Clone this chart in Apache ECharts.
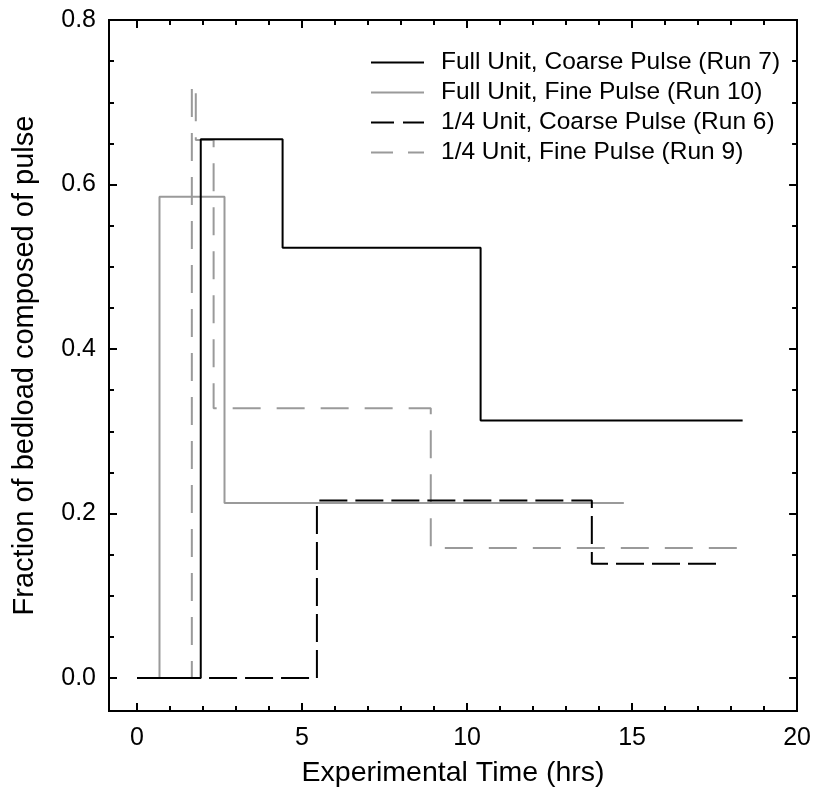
<!DOCTYPE html>
<html>
<head>
<meta charset="utf-8">
<script src="https://cdn.jsdelivr.net/npm/echarts@6/dist/echarts.min.js"></script>
<style>html,body{margin:0;padding:0;background:#fff}#c{width:814px;height:806px}</style>
</head>
<body>
<div id="c"></div>
<script>
// Data (hours, fraction) - step breakpoints
const timeRun7 = [0, 1.93, 4.41, 10.41, 18.35];
const fracRun7 = [0, 0.655, 0.523, 0.313, 0.313];
const timeRun10 = [0, 0.68, 2.65, 14.75];
const fracRun10 = [0, 0.585, 0.213, 0.213];
const timeRun6 = [0, 5.45, 13.78, 17.59];
const fracRun6 = [0, 0.216, 0.139, 0.139];
const timeRun9 = [0, 1.66, 1.78, 2.32, 8.9, 18.24];
const fracRun9 = [0, 0.721, 0.654, 0.328, 0.158, 0.158];

const seriesNames = [
  'Full Unit, Coarse Pulse (Run 7)',
  'Full Unit, Fine Pulse (Run 10)',
  '1/4 Unit, Coarse Pulse (Run 6)',
  '1/4 Unit, Fine Pulse (Run 9)'
];
const xMajorTicks = [0, 5, 10, 15, 20];
const xMinorTicks = [1, 2, 3, 4, 6, 7, 8, 9, 11, 12, 13, 14, 16, 17, 18, 19];
const yMajorTicks = [0, 0.2, 0.4, 0.6, 0.8];
const yMinorTicks = [0.05, 0.1, 0.15, 0.25, 0.3, 0.35, 0.45, 0.5, 0.55, 0.65, 0.7, 0.75];

const FONT = 'Liberation Sans, Arial, Helvetica, sans-serif';
const X_MIN = -0.85, X_MAX = 20, Y_MIN = -0.04, Y_MAX = 0.8;

function pairs(xs, ys) { return xs.map((x, i) => [x, ys[i]]); }

const axisLineStyle = { show: true, onZero: false, lineStyle: { color: '#000', width: 2 } };

function xAx(pos, ticks, len, showLabel, extra) {
  return Object.assign({
    type: 'value', position: pos, min: X_MIN, max: X_MAX,
    axisLine: axisLineStyle,
    axisTick: { show: true, inside: true, length: len, customValues: ticks, lineStyle: { color: '#000', width: 2 } },
    axisLabel: showLabel ? { show: true, customValues: ticks, color: '#000', fontSize: 25, fontFamily: FONT, margin: 15 } : { show: false },
    splitLine: { show: false }
  }, extra || {});
}
function yAx(pos, ticks, len, showLabel, extra) {
  return Object.assign({
    type: 'value', position: pos, min: Y_MIN, max: Y_MAX,
    axisLine: axisLineStyle,
    axisTick: { show: true, inside: true, length: len, customValues: ticks, lineStyle: { color: '#000', width: 2 } },
    axisLabel: showLabel ? { show: true, customValues: ticks, color: '#000', fontSize: 25, fontFamily: FONT, margin: 13,
      formatter: v => v.toFixed(1) } : { show: false },
    splitLine: { show: false }
  }, extra || {});
}

const chart = echarts.init(document.getElementById('c'), null, { renderer: 'canvas' });
chart.setOption({
  backgroundColor: '#fff',
  animation: false,
  grid: { left: 109, top: 20, right: 14, bottom: 95, containLabel: false },
  legend: {
    orient: 'vertical', left: 370, top: 50, padding: 0,
    itemWidth: 53, itemHeight: 24, itemGap: 5,
    itemStyle: { opacity: 0 },
    textStyle: { color: '#000', fontSize: 24.5, fontFamily: FONT, padding: [0, 0, 0, 12], lineHeight: 24 },
    data: [
      { name: seriesNames[0] },
      { name: seriesNames[1] },
      { name: seriesNames[2], lineStyle: { type: [23, 9] } },
      { name: seriesNames[3], lineStyle: { type: [22, 15] } }
    ]
  },
  xAxis: [
    xAx('bottom', xMajorTicks, 8, true, {
      name: 'Experimental Time (hrs)', nameLocation: 'middle', nameGap: 48,
      nameTextStyle: { color: '#000', fontSize: 28.5, fontFamily: FONT }
    }),
    xAx('bottom', xMinorTicks, 5, false),
    xAx('top', xMajorTicks, 8, false),
    xAx('top', xMinorTicks, 5, false)
  ],
  yAxis: [
    yAx('left', yMajorTicks, 8, true, {
      name: 'Fraction of bedload composed of pulse', nameLocation: 'middle', nameGap: 70,
      nameTextStyle: { color: '#000', fontSize: 29, fontFamily: FONT }
    }),
    yAx('left', yMinorTicks, 5, false),
    yAx('right', yMajorTicks, 8, false),
    yAx('right', yMinorTicks, 5, false)
  ],
  series: [
    { name: seriesNames[0], type: 'line', step: 'end', symbol: 'none', data: pairs(timeRun7, fracRun7),
      lineStyle: { color: '#000', width: 2, type: 'solid' }, itemStyle: { color: '#000' }, z: 4 },
    { name: seriesNames[1], type: 'line', step: 'end', symbol: 'none', data: pairs(timeRun10, fracRun10),
      lineStyle: { color: '#9a9a9a', width: 2, type: 'solid' }, itemStyle: { color: '#9a9a9a' }, z: 2 },
    { name: seriesNames[2], type: 'line', step: 'end', symbol: 'none', data: pairs(timeRun6, fracRun6),
      lineStyle: { color: '#000', width: 2, type: [28, 8] }, itemStyle: { color: '#000' }, z: 3 },
    { name: seriesNames[3], type: 'line', step: 'end', symbol: 'none', data: pairs(timeRun9, fracRun9),
      lineStyle: { color: '#9a9a9a', width: 2, type: [28, 16] }, itemStyle: { color: '#9a9a9a' }, z: 1 }
  ]
});
</script>
</body>
</html>
